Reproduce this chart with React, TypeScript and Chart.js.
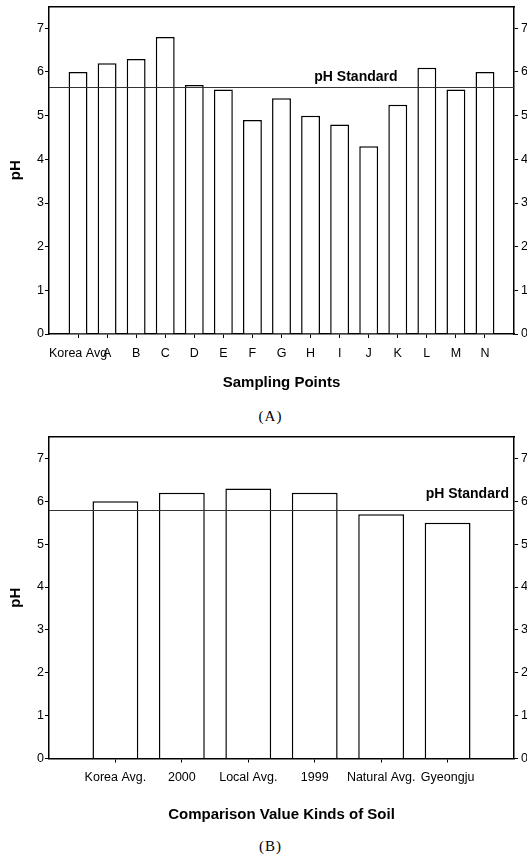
import React, { useEffect, useRef } from 'react';
import { Chart, registerables } from 'chart.js';

Chart.register(...registerables);

// ---- Data ----
const samplingLabels = ['Korea Avg', 'A', 'B', 'C', 'D', 'E', 'F', 'G', 'H', 'I', 'J', 'K', 'L', 'M', 'N'];
const samplingPH = [6.0, 6.2, 6.3, 6.8, 5.7, 5.6, 4.9, 5.4, 5.0, 4.8, 4.3, 5.25, 6.1, 5.6, 6.0];
const standardA = 5.65;

const comparisonLabels = ['Korea Avg.', '2000', 'Local Avg.', '1999', 'Natural Avg.', 'Gyeongju'];
const comparisonPH = [6.0, 6.2, 6.3, 6.2, 5.7, 5.5];
const standardB = 5.8;

const yMin = 0;
const yMax = 7.5;
const yStep = 1;
const standardText = 'pH Standard';

const FONT = "'Liberation Sans', Arial, sans-serif";

const standardPlugin = {
  id: 'standardLine',
  afterDatasetsDraw(chart: any, _args: any, opts: any) {
    const { ctx, chartArea } = chart;
    const y = chart.scales.y.getPixelForValue(opts.value);
    ctx.save();
    ctx.strokeStyle = '#333';
    ctx.lineWidth = 1;
    ctx.beginPath();
    ctx.moveTo(chartArea.left, Math.round(y) + 0.5);
    ctx.lineTo(chartArea.right, Math.round(y) + 0.5);
    ctx.stroke();
    ctx.fillStyle = '#000';
    ctx.font = `bold 14px ${FONT}`;
    ctx.textAlign = opts.align;
    ctx.textBaseline = 'bottom';
    const x = chartArea.left + opts.xFrac * (chartArea.right - chartArea.left);
    ctx.fillText(opts.text, x, y - opts.gap);
    ctx.restore();
  },
};

type PanelProps = {
  labels: string[];
  values: number[];
  standard: number;
  xTitle: string;
  height: number;
  barPct: number;
  pad: { top: number; bottom: number };
  tickPad: number;
  titlePadTop: number;
  xFrac: number;
  align: string;
  gap: number;
};

function BarPanel(p: PanelProps) {
  const ref = useRef<HTMLCanvasElement>(null);
  useEffect(() => {
    if (!ref.current) return;
    const labels = ['', ...p.labels, ''];
    const data = [null, ...p.values, null];
    const last = labels.length - 1;
    const tickColor = (ctx: any) =>
      ctx.index === 0 || ctx.index === last ? 'rgba(0,0,0,0)' : '#000';
    const yAxisBase = {
      type: 'linear',
      min: yMin,
      max: yMax,
      ticks: {
        stepSize: yStep,
        includeBounds: false,
        color: '#000',
        font: { family: FONT, size: 12.5 },
      },
      grid: { display: true, drawOnChartArea: false, drawTicks: true, tickLength: 4, color: '#000' },
      border: { display: true, color: '#000', width: 1.5 },
    };
    const chart = new Chart(ref.current, {
      type: 'bar',
      data: {
        labels,
        datasets: [
          {
            data,
            backgroundColor: '#fff',
            borderColor: '#000',
            borderWidth: 1.5,
            barPercentage: p.barPct,
            categoryPercentage: 1,
          },
        ],
      },
      options: {
        animation: false,
        responsive: false,
        layout: { padding: { left: 0, right: -4, top: p.pad.top, bottom: p.pad.bottom } },
        plugins: {
          legend: { display: false },
          tooltip: { enabled: false },
          standardLine: {
            value: p.standard,
            text: standardText,
            xFrac: p.xFrac,
            align: p.align,
            gap: p.gap,
          },
        } as any,
        scales: {
          x: {
            type: 'category',
            offset: false,
            grid: {
              display: true,
              drawOnChartArea: false,
              drawTicks: true,
              tickLength: 4,
              offset: false,
              color: tickColor,
            },
            border: { display: true, color: '#000', width: 1.5 },
            ticks: {
              autoSkip: false,
              maxRotation: 0,
              minRotation: 0,
              color: '#000',
              padding: p.tickPad,
              font: { family: FONT, size: 12.5 },
            },
            title: {
              display: true,
              text: p.xTitle,
              color: '#000',
              font: { family: FONT, size: 15, weight: 'bold' },
              padding: { top: p.titlePadTop, bottom: 2 },
            },
          },
          x2: {
            type: 'category',
            position: 'top',
            offset: false,
            grid: { display: false },
            ticks: { display: false },
            border: { display: true, color: '#000', width: 1.5 },
          },
          y: {
            ...yAxisBase,
            position: 'left',
            ticks: { ...yAxisBase.ticks, padding: 1 },
            title: {
              display: true,
              text: 'pH',
              color: '#000',
              font: { family: FONT, size: 15, weight: 'bold' },
              padding: { top: 7, bottom: 11 },
            },
          },
          y2: {
            ...yAxisBase,
            position: 'right',
            ticks: { ...yAxisBase.ticks, padding: 3 },
          },
        } as any,
      },
      plugins: [standardPlugin],
    } as any);
    return () => chart.destroy();
  }, []);
  return <canvas ref={ref} width={527} height={p.height} style={{ display: 'block' }} />;
}

const captionStyle: React.CSSProperties = {
  position: 'absolute',
  left: 7,
  width: 527,
  textAlign: 'center',
  fontFamily: "'Liberation Serif', serif",
  fontSize: 15,
  letterSpacing: 1,
  lineHeight: '16px',
  color: '#000',
};

export default function App() {
  return (
    <div style={{ position: 'absolute', left: 0, top: 0, width: 527, height: 858, background: '#fff' }}>
      <div style={{ position: 'absolute', left: 0, top: -4 }}>
        <BarPanel
          labels={samplingLabels}
          values={samplingPH}
          standard={standardA}
          xTitle="Sampling Points"
          height={398}
          barPct={0.65}
          pad={{ top: 0, bottom: 0 }}
          tickPad={8}
          titlePadTop={5}
          xFrac={0.66}
          align="center"
          gap={3}
        />
      </div>
      <div style={{ ...captionStyle, top: 408 }}>(A)</div>
      <div style={{ position: 'absolute', left: 0, top: 420 }}>
        <BarPanel
          labels={comparisonLabels}
          values={comparisonPH}
          standard={standardB}
          xTitle="Comparison Value Kinds of Soil"
          height={406}
          barPct={0.69}
          pad={{ top: 9, bottom: 0 }}
          tickPad={7.5}
          titlePadTop={13.5}
          xFrac={0.989}
          align="right"
          gap={9}
        />
      </div>
      <div style={{ ...captionStyle, top: 838 }}>(B)</div>
    </div>
  );
}
